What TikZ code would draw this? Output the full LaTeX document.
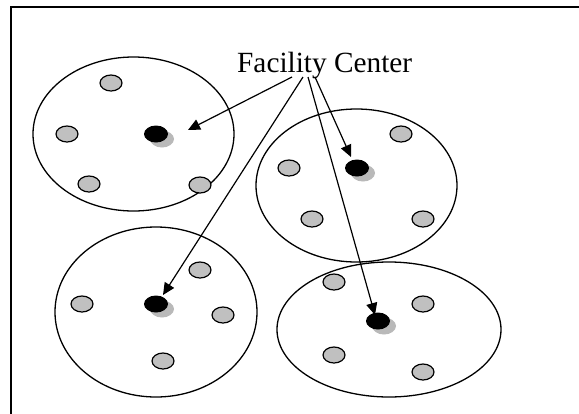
\documentclass[tikz,border=0pt]{standalone}
\usepackage{fontspec}
\setmainfont{Liberation Serif}
\usetikzlibrary{shapes.geometric,arrows.meta}
\definecolor{dotgray}{RGB}{192,192,192}
\definecolor{shadowgray}{RGB}{185,185,185}
\begin{document}
\begin{tikzpicture}[x=1pt,y=-1pt,
  region/.style={ellipse,draw,line width=1.3pt,inner sep=0pt},
  member/.style={ellipse,draw,line width=1.2pt,fill=dotgray,inner sep=0pt,
    minimum width=22pt,minimum height=16pt},
  center/.style={ellipse,fill=black,inner sep=0pt,
    minimum width=24pt,minimum height=17pt},
  shade/.style={ellipse,fill=shadowgray,inner sep=0pt,
    minimum width=24pt,minimum height=17pt},
  arr/.style={line width=1.2pt,-{Triangle[length=12pt,width=11pt]}}]
\useasboundingbox (0,0) rectangle (579,413);
% outer frame, running past the right and bottom edges
\draw[line width=1.4pt] (590,7) -- (11,7) -- (11,425);

% service regions
\node[region,minimum width=201pt,minimum height=154pt] (r1) at (133.5,134) {};
\node[region,minimum width=201pt,minimum height=153pt] (r2) at (356.5,185.5) {};
\node[region,minimum width=202pt,minimum height=170pt] (r3) at (156,312) {};
\node[region,minimum width=224pt,minimum height=135pt] (r4) at (389,329.5) {};

% members of each region
\node[member] (a1) at (111,83) {};
\node[member] (a2) at (67,134) {};
\node[member] (a3) at (89,184) {};
\node[member] (a4) at (200,185) {};

\node[member] (b1) at (401,134) {};
\node[member] (b2) at (289,168) {};
\node[member] (b3) at (312,219) {};
\node[member] (b4) at (423,219) {};

\node[member] (c1) at (200,270) {};
\node[member] (c2) at (82,304) {};
\node[member] (c3) at (223,315) {};
\node[member] (c4) at (163,361) {};

\node[member] (d1) at (334,282) {};
\node[member] (d2) at (423,304) {};
\node[member] (d3) at (334,355) {};
\node[member] (d4) at (423,372) {};

% facility centers with their soft shadows
\node[shade] at (162,139) {};
\node[center] (f1) at (156,134) {};
\node[shade] at (363,173) {};
\node[center] (f2) at (357,168) {};
\node[shade] at (162,309) {};
\node[center] (f3) at (156,304) {};
\node[shade] at (384,326) {};
\node[center] (f4) at (378,321) {};

% label
\node[font=\fontsize{29.3}{32}\selectfont,anchor=base west,inner sep=0pt]
  (fc) at (237,72) {Facility Center};

% arrow ends
\coordinate (s1) at (292,77);
\coordinate (s3) at (303,77);
\coordinate (s4) at (308,77);
\coordinate (s2) at (315,77);
\coordinate (t1) at (188,130);
\coordinate (t2) at (351,157);
\coordinate (t3) at (163,295);
\coordinate (t4) at (375,315);

\draw[arr] (s1) -- (t1);
\draw[arr] (s3) -- (t3);
\draw[arr] (s4) -- (t4);
\draw[arr] (s2) -- (t2);
\end{tikzpicture}
\end{document}
